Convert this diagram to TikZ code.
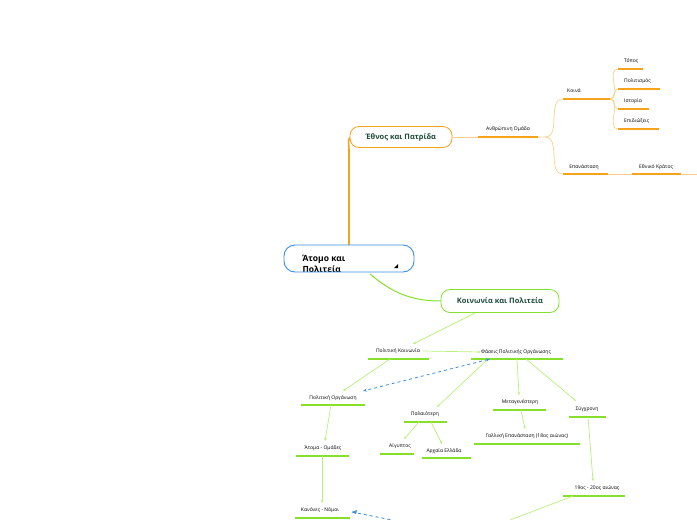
\documentclass[tikz,border=0pt]{standalone}
\usepackage{fontspec}
\setmainfont{Open Sans}
\usetikzlibrary{arrows.meta}
\definecolor{org}{HTML}{F7A21B}
\definecolor{orgl}{HTML}{FCD08A}
\definecolor{grn}{HTML}{86E02A}
\definecolor{grnl}{HTML}{B8F07A}
\definecolor{dg}{HTML}{1E4D3A}
\definecolor{blu}{HTML}{3A8EE0}
\tikzset{
 lbl/.style={font=\fontsize{5}{6}\selectfont, inner sep=0pt},
 big/.style={draw, rounded corners=9pt, line width=0.8pt, fill=white, font=\bfseries\fontsize{7.5}{9}\selectfont, text=dg},
 ou/.style={org, line width=1.2pt},
 gu/.style={grn, line width=1.2pt},
 ol/.style={orgl, line width=0.7pt},
 gl/.style={grnl, line width=0.7pt, -{Stealth[length=3pt,width=2.5pt]}},
 bd/.style={blu, dashed, line width=0.8pt, {Stealth[length=4pt]}-{Stealth[length=4pt]}}
}
\begin{document}
\begin{tikzpicture}[x=1pt,y=-1pt]
\useasboundingbox (0,0) rectangle (697,520);
% orange branch
\draw[org, line width=1.6pt] (349,262) -- (349,150) to[out=90,in=180] (352,137);
\node[big, draw=org, minimum width=102pt, minimum height=21pt] (eth) at (401,137) {Έθνος και Πατρίδα};
\node[lbl] (anth) at (508,129) {Ανθρώπινη Ομάδα};
\draw[ol] (eth.east) -- (478,137);
\draw[ou] (478,137) -- coordinate (ae) (538,137);
\coordinate (aR) at (538,137);
\draw[ol] (aR) -- (545,137) to[out=0,in=180] (563,99);
\draw[ol] (545,137) to[out=0,in=180] (563,174);
\node[lbl] (koi) at (574,91) {Κοινά};
\draw[ou] (563,99) -- (610,99);
\node[lbl] (epa) at (584,167) {Επανάσταση};
\draw[ou] (563,174) -- (608,174);
\draw[ol] (608,174) -- (632,174);
\node[lbl] (ethk) at (656,167) {Εθνικό Κράτος};
\draw[ou] (632,174) -- (681,174);
\draw[ol] (681,174) -- (697,174);
\foreach \y/\t/\w/\n in {69/Τόπος/643/tp,89/Πολιτισμός/660/pl,109/Ιστορία/649/is,129/Επιδιώξεις/659/ep}{
 \draw[ol] (610,99) to[out=0,in=180] (618,\y);
 \draw[ou] (618,\y) -- (\w,\y);
 \node[lbl, anchor=west] (\n) at (624,\y-8) {\t};
}
% root
\draw[grn, line width=1pt] (370,274) to[out=-40,in=180] (441,301);
\begin{scope}
\clip[rounded corners=11pt] (284,245) rectangle (414,272);
\fill[white] (284,245) rectangle (414,272);
\node[font=\bfseries\fontsize{8.5}{11}\selectfont, anchor=north west, align=left] (root) at (299,252) {Άτομο και\\Πολιτεία};
\end{scope}
\draw[blu, line width=0.9pt, rounded corners=11pt] (284,245) rectangle (414,272);
\fill (398,264) -- (398,268) -- (394,268) -- cycle;
% green branch
\node[big, draw=grn, minimum width=118pt, minimum height=23pt] (koin) at (500,301) {Κοινωνία και Πολιτεία};
\newcommand{\gnode}[5]{\node[lbl] (#1) at (#2,#3) {#5};}
\gnode{pk}{398}{351}{}{Πολιτική Κοινωνία}
\draw[gu] (368,359) -- (429,359);
\gnode{fa}{516}{352}{}{Φάσεις Πολιτικής Οργάνωσης}
\draw[gu] (471,359) -- (563,359);
\gnode{po}{333}{398}{}{Πολιτική Οργάνωση}
\draw[gu] (301,405) -- (365,405);
\gnode{pal}{425}{414}{}{Παλαιότερη}
\draw[gu] (404,422) -- (447,422);
\gnode{met}{520}{402}{}{Μεταγενέστερη}
\draw[gu] (493,410) -- (546,410);
\gnode{syg}{587}{409}{}{Σύγχρονη}
\draw[gu] (569,417) -- (606,417);
\gnode{aig}{400}{446}{}{Αίγυπτος}
\draw[gu] (380,454) -- (414,454);
\gnode{arx}{444}{451}{}{Αρχαία Ελλάδα}
\draw[gu] (422,458) -- (471,458);
\gnode{gal}{527}{436}{}{Γαλλική Επανάσταση (18ος αιώνας)}
\draw[gu] (474,444) -- (580,444);
\gnode{ato}{323}{448}{}{Άτομα - Ομάδες}
\draw[gu] (296,456) -- (349,456);
\gnode{ai}{597}{488}{}{19ος - 20ος αιώνας}
\draw[gu] (563,496) -- (625,496);
\gnode{kan}{320}{510}{}{Κανόνες - Νόμοι}
\draw[gu] (295,518) -- (350,518);
\coordinate (off1) at (510,520);
\coordinate (off2) at (392,520);
\draw[gl] (475,313) -- (413,344);
\draw[gl] (pk.east) ++(3,0) -- (fa.west);
\draw[gl] (390,359) -- (343,391);
\draw[gl] (488,359) -- (437,407);
\draw[gl] (517,359) -- (519,395);
\draw[gl] (526,359) -- (576,401);
\draw[gl] (419,422) -- (404,439);
\draw[gl] (431,422) -- (442,444);
\draw[gl] (521,410) -- (525,429);
\draw[gl] (331,405) -- (325,441);
\draw[gl] (322,456) -- (322,503);
\draw[gl] (588,417) -- (593,481);
\draw[gl,-] (573,496) -- (off1);
\draw[bd] (490,359) -- (363,391);
\draw[bd,-] (352,512) -- (off2);
\fill[blu] (352,512) -- (357,510) -- (356,514) -- cycle;
\end{tikzpicture}
\end{document}
